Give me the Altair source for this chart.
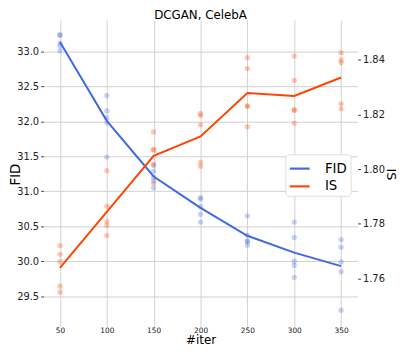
import altair as alt
import pandas as pd

iters = [50, 100, 150, 200, 250, 300, 350]
fid_runs = [
    [33.24, 33.23, 33.12, 33.08, 33.01],
    [32.37, 32.15, 32.05, 31.98, 31.49],
    [31.37, 31.29, 31.20, 31.15, 31.05],
    [30.91, 30.89, 30.78, 30.67, 30.56],
    [30.65, 30.37, 30.29, 30.28, 30.23],
    [30.56, 30.34, 30.00, 29.94, 29.77],
    [30.31, 30.20, 29.99, 29.85, 29.30],
]
is_runs = [
    [1.7720, 1.7688, 1.7661, 1.7571, 1.7549],
    [1.7994, 1.7864, 1.7807, 1.7793, 1.7757],
    [1.8136, 1.8073, 1.8069, 1.8018, 1.7948],
    [1.8204, 1.8196, 1.8162, 1.8025, 1.8010],
    [1.8408, 1.8368, 1.8232, 1.8229, 1.8155],
    [1.8414, 1.8325, 1.8218, 1.8215, 1.8168],
    [1.8427, 1.8400, 1.8390, 1.8239, 1.8221],
]
series = ["FID", "IS"]
colors = ["#4169e1", "#ff4500"]
fid_ticks = [29.5, 30.0, 30.5, 31.0, 31.5, 32.0, 32.5, 33.0]
is_ticks = [1.76, 1.78, 1.80, 1.82, 1.84]

rows_fid = [{"iter": it, "value": v, "series": "FID"} for it, vals in zip(iters, fid_runs) for v in vals]
rows_is = [{"iter": it, "value": v, "series": "IS"} for it, vals in zip(iters, is_runs) for v in vals]
df_fid = pd.DataFrame(rows_fid)
df_is = pd.DataFrame(rows_is)

FONT = "DejaVu Sans"
W, H = 318, 308
color_scale = alt.Scale(domain=series, range=colors)

x_enc = alt.X(
    "iter:Q",
    scale=alt.Scale(domain=[32.5, 367.5], nice=False, zero=False),
    axis=alt.Axis(values=iters, title="#iter", labelFontSize=7.5, titleFontSize=12,
                  grid=True, gridColor="#d0d0d0", domain=False, tickSize=2, tickColor="#d0d0d0",
                  labelPadding=0, labelColor="#222", titleColor="#000",
                  titleFontWeight="normal", titleBaseline="alphabetic", titleY=20),
)

fid_y = alt.Y(
    "value:Q",
    scale=alt.Scale(domain=[29.1, 33.45], nice=False, zero=False),
    axis=alt.Axis(orient="left", values=fid_ticks, format=".1f", title="FID",
                  labelFontSize=10, titleFontSize=13.5, grid=True, gridColor="#d0d0d0",
                  domain=False, tickSize=3, tickColor="#444", labelPadding=2,
                  labelColor="#222", titleColor="#000", titleFontWeight="normal",
                  titleX=-28, titleY=156, titleBaseline="middle", titleAngle=270),
)
is_y = alt.Y(
    "value:Q",
    scale=alt.Scale(domain=[1.7432, 1.8546], nice=False, zero=False),
    axis=alt.Axis(orient="right", values=is_ticks, format=".2f", title="IS",
                  labelFontSize=10, titleFontSize=13, grid=False,
                  domain=False, tickSize=3, tickColor="#444", labelPadding=2,
                  labelColor="#222", titleColor="#000", titleFontWeight="normal",
                  titleAngle=90, titleX=33, titleY=156, titleBaseline="middle"),
)

legend = alt.Legend(
    title=None, orient="none", legendX=245, legendY=136, symbolType="stroke",
    symbolStrokeWidth=2.2, symbolSize=400, labelFontSize=13.5, labelFont=FONT,
    fillColor="white", strokeColor="#dddddd", cornerRadius=3, padding=3,
    rowPadding=-1, labelOffset=14, symbolOpacity=1,
)
color_enc = alt.Color("series:N", scale=color_scale, legend=legend)

fid_pts = alt.Chart(df_fid).mark_circle(size=28, opacity=0.3).encode(
    x=x_enc, y=fid_y, color=color_enc
)
fid_line = alt.Chart(df_fid).transform_aggregate(
    value="mean(value)", groupby=["iter", "series"]
).mark_line(strokeWidth=2).encode(x=x_enc, y=fid_y, color=color_enc)

is_pts = alt.Chart(df_is).mark_circle(size=28, opacity=0.3).encode(
    x=x_enc, y=is_y, color=color_enc
)
is_line = alt.Chart(df_is).transform_aggregate(
    value="mean(value)", groupby=["iter", "series"]
).mark_line(strokeWidth=2).encode(x=x_enc, y=is_y, color=color_enc)

fid_layer = alt.layer(fid_pts, fid_line)
is_layer = alt.layer(is_pts, is_line)

chart = alt.layer(fid_layer, is_layer).resolve_scale(y="independent").properties(
    width=W, height=H,
    title=alt.TitleParams("DCGAN, CelebA", fontSize=12, font=FONT, fontWeight="normal",
                          offset=2, dy=4, color="#000"),
    autosize=alt.AutoSizeParams(type="none"),
    padding={"left": 36, "top": 10, "right": 42, "bottom": 22},
).configure(font=FONT).configure_view(stroke=None).configure_axis(labelFont=FONT, titleFont=FONT)

chart.save("out.html", embed_options={"renderer": "svg", "actions": False})
